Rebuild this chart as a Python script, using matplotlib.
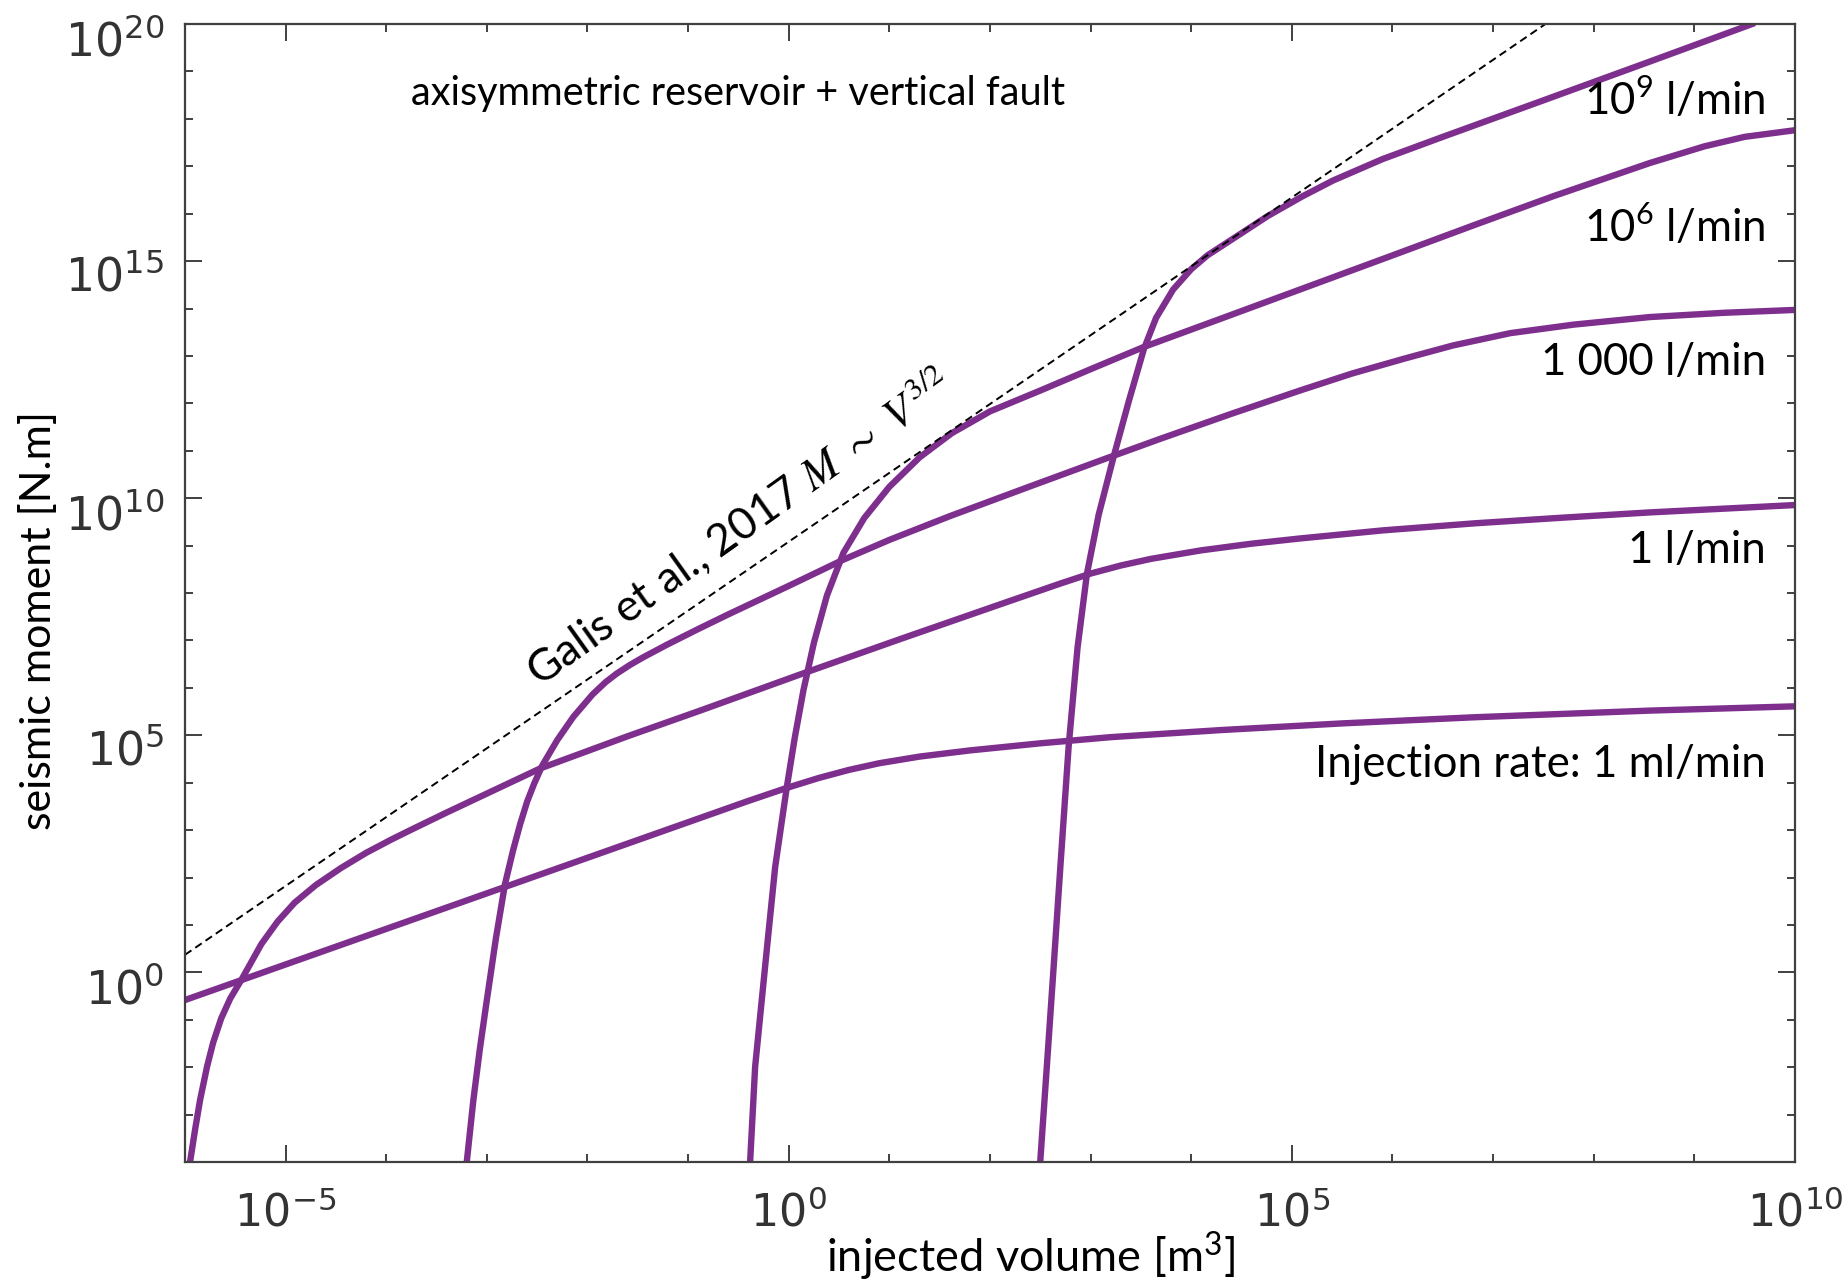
import numpy as np
import matplotlib
matplotlib.use("Agg")
import matplotlib.pyplot as plt
from matplotlib.ticker import FixedLocator, LogFormatterMathtext, NullFormatter
from matplotlib.transforms import ScaledTranslation

plt.rcParams['axes.unicode_minus'] = False

# curves are given as log10(injected volume [m3]) vs log10(seismic moment [N.m])
logv_1ml = [-6.0, -0.40, -0.019, 0.30, 0.60, 0.90, 1.30, 1.80, 2.50, 3.20, 4.30, 5.50, 6.82, 8.56, 10.0]
logm_1ml = [-0.584, 3.616, 3.89, 4.10, 4.27, 4.41, 4.55, 4.68, 4.83, 4.96, 5.11, 5.25, 5.38, 5.52, 5.61]

logv_1l = [-5.95, -5.90, -5.85, -5.78, -5.72, -5.64, -5.55, -5.44, -5.34, -5.24, -5.08, -4.91, -4.70,
           -4.45, -4.20, -3.95, -3.74, -3.40, -3.00, -2.47, -1.60, -0.88, 0.15, 1.11, 2.10, 2.70,
           3.00, 3.30, 3.60, 4.10, 4.60, 5.08, 5.90, 6.82, 7.70, 8.56, 10.0]
logm_1l = [-4.00, -3.32, -2.69, -1.98, -1.48, -0.97, -0.55, -0.16, 0.22, 0.60, 1.07, 1.47, 1.84,
           2.20, 2.52, 2.80, 3.02, 3.37, 3.77, 4.30, 4.98, 5.52, 6.31, 7.03, 7.76, 8.20,
           8.41, 8.58, 8.72, 8.90, 9.04, 9.15, 9.32, 9.47, 9.59, 9.70, 9.855]

logv_1000l = [-3.20, -3.134, -3.07, -3.00, -2.91, -2.82, -2.74, -2.67, -2.60, -2.53, -2.45, -2.30,
              -2.14, -1.95, -1.82, -1.71, -1.58, -1.45, -1.21, -0.90, -0.60, 0.0, 0.54, 1.0, 1.6,
              2.4, 3.17, 3.69, 4.40, 5.08, 5.60, 6.13, 6.60, 7.17, 7.80, 8.56, 9.30, 10.0]
logm_1000l = [-4.00, -2.69, -1.62, -0.58, 0.72, 1.86, 2.57, 3.12, 3.60, 3.98, 4.36, 4.90,
              5.39, 5.86, 6.12, 6.30, 6.48, 6.64, 6.91, 7.24, 7.55, 8.15, 8.70, 9.12, 9.62,
              10.25, 10.85, 11.25, 11.78, 12.27, 12.63, 12.95, 13.22, 13.48, 13.66, 13.82, 13.91, 13.97]

logv_1e6l = [-0.384, -0.334, -0.268, -0.202, -0.135, -0.075, -0.019, 0.06, 0.146, 0.25, 0.38, 0.544,
             0.75, 1.0, 1.30, 1.62, 2.0, 2.5, 3.0, 3.53, 4.3, 5.08, 6.0, 6.8, 7.6, 8.56, 9.1, 9.5, 10.0]
logm_1e6l = [-4.00, -1.99, -0.58, 0.82, 2.22, 3.10, 3.91, 4.95, 5.95, 6.95, 7.95, 8.85,
             9.58, 10.24, 10.86, 11.37, 11.83, 12.27, 12.72, 13.19, 13.79, 14.40, 15.12, 15.75,
             16.37, 17.07, 17.42, 17.62, 17.76]

logv_1e9l = [2.499, 2.566, 2.632, 2.70, 2.781, 2.87, 2.963, 3.08, 3.228, 3.38, 3.53, 3.65, 3.82,
             4.0, 4.16, 4.45, 4.76, 5.1, 5.41, 5.9, 6.5, 7.5, 8.56, 9.6]
logm_1e9l = [-4.0, -1.95, 0.10, 2.25, 4.75, 6.85, 8.40, 9.65, 10.87, 12.05, 13.15, 13.80, 14.40,
             14.83, 15.12, 15.52, 15.95, 16.36, 16.70, 17.15, 17.62, 18.39, 19.21, 20.02]

# Galis et al. (2017) upper bound
galis_logv = [-6.0, 7.52]
galis_logm = [0.37, 20.0]

rate_labels = [r'10$^{\mathdefault{9}}$ l/min', r'10$^{\mathdefault{6}}$ l/min', '1 000 l/min',
               '1 l/min', 'Injection rate: 1 ml/min']
label_y = [0.92, 0.8084, 0.6916, 0.5264, 0.3383]

purple = '#7E2F8E'
axis_gray = '#404040'

fig = plt.figure(figsize=(18.49, 12.84), dpi=100)
ax = fig.add_axes([185 / 1849, 1 - 1162 / 1284, 1610 / 1849, 1138 / 1284])

curves = [(logv_1ml, logm_1ml), (logv_1l, logm_1l), (logv_1000l, logm_1000l),
          (logv_1e6l, logm_1e6l), (logv_1e9l, logm_1e9l)]
for lv, lm in curves:
    ax.plot(10.0 ** np.array(lv), 10.0 ** np.array(lm), color=purple, lw=4.6,
            solid_capstyle='butt', solid_joinstyle='round')

ax.plot(10.0 ** np.array(galis_logv), 10.0 ** np.array(galis_logm), color='black',
        lw=1.4, linestyle=(0, (4, 2.4)))

ax.set_xscale('log')
ax.set_yscale('log')
ax.set_xlim(1e-6, 1e10)
ax.set_ylim(1e-4, 1e20)

ax.xaxis.set_major_locator(FixedLocator(10.0 ** np.array([-5, 0, 5, 10])))
ax.xaxis.set_minor_locator(FixedLocator(10.0 ** np.arange(-6, 11)))
ax.yaxis.set_major_locator(FixedLocator(10.0 ** np.arange(0, 21, 5)))
ax.yaxis.set_minor_locator(FixedLocator(10.0 ** np.arange(-4, 21)))
ax.xaxis.set_major_formatter(LogFormatterMathtext())
ax.yaxis.set_major_formatter(LogFormatterMathtext())
ax.xaxis.set_minor_formatter(NullFormatter())
ax.yaxis.set_minor_formatter(NullFormatter())

ax.tick_params(which='both', direction='in', top=True, right=True, color=axis_gray, width=1.4)
ax.tick_params(which='major', length=12)
ax.tick_params(which='minor', length=6)
ax.tick_params(axis='x', labelsize=32, labelcolor='#333333', pad=21)
ax.tick_params(axis='y', labelsize=33, labelcolor='#333333', pad=15)
for s in ax.spines.values():
    s.set_color(axis_gray)
    s.set_linewidth(1.6)

# y labels sit a little below their ticks
shift = ScaledTranslation(0, -0.13, fig.dpi_scale_trans)
for lbl in ax.get_yticklabels():
    lbl.set_transform(lbl.get_transform() + shift)

ax.text(-0.0913, 0.4754, 'seismic moment [N.m]', family='Lato', fontsize=31,
        rotation=90, ha='center', va='center', transform=ax.transAxes)
ax.text(0.525, -0.0967, r'injected volume [m$^{\mathdefault{3}}$]', family='Lato', fontsize=32.5,
        ha='center', va='baseline', transform=ax.transAxes)

ax.text(0.1404, 0.9385, 'axisymmetric reservoir + vertical fault', family='Lato', fontsize=28.5,
        ha='left', va='center', transform=ax.transAxes)

for txt, yy in zip(rate_labels, label_y):
    ax.text(0.982, yy, txt, family='Lato', fontsize=31.5, ha='right', va='baseline',
            transform=ax.transAxes)

ax.text(10 ** -2.48, 10 ** 6.0, r'Galis et al., 2017 $M\ \sim\ V^{3/2}$', family='Lato',
        math_fontfamily='stix', fontsize=32, rotation=35.5, rotation_mode='anchor',
        ha='left', va='baseline')

fig.savefig('out.png', dpi=100)
